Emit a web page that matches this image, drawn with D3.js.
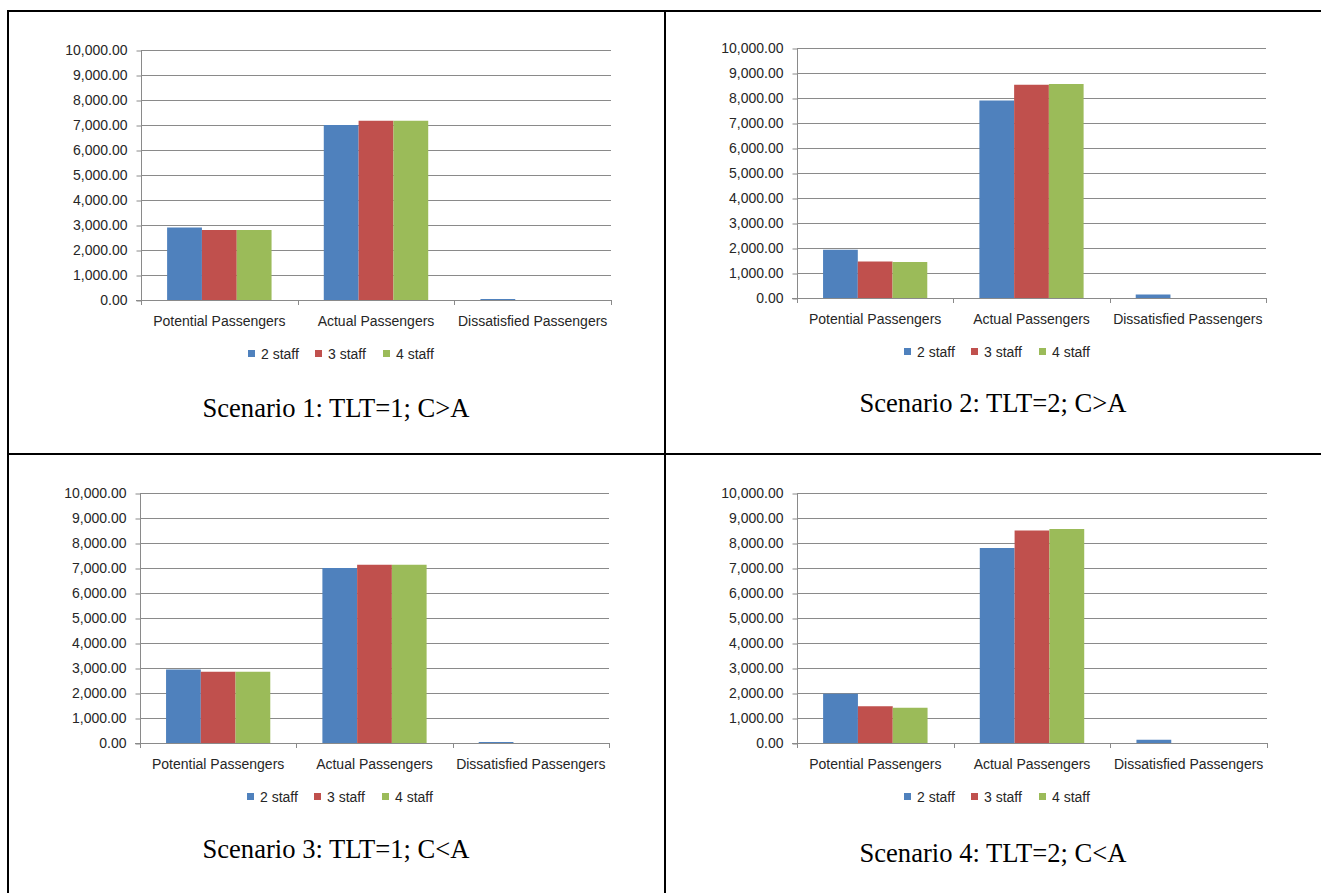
<!DOCTYPE html>
<html>
<head>
<meta charset="utf-8">
<script src="https://cdn.jsdelivr.net/npm/d3@7/dist/d3.min.js"></script>
<style>
  html, body { margin: 0; padding: 0; background: #fff; }
  svg { display: block; }
  .tick text { font-family: "Liberation Sans", Arial, sans-serif; font-size: 14px; fill: #262626; }
  .legend text, .cat text { font-family: "Liberation Sans", Arial, sans-serif; font-size: 14px; fill: #262626; }
  .caption { font-family: "Liberation Serif", "Times New Roman", serif; font-size: 26.6px; fill: #000; }
</style>
</head>
<body>
<div id="chart"></div>
<script>
var categories = ["Potential Passengers", "Actual Passengers", "Dissatisfied Passengers"]
var seriesNames = ["2 staff", "3 staff", "4 staff"]
var colors = ["#4F81BD", "#C0504D", "#9BBB59"]
var yTicks = [0, 1000, 2000, 3000, 4000, 5000, 6000, 7000, 8000, 9000, 10000]

// values per series, in category order
var s1Staff2 = [2900, 7000, 40]
var s1Staff3 = [2800, 7170, 0]
var s1Staff4 = [2800, 7170, 0]

var s2Staff2 = [1930, 7900, 140]
var s2Staff3 = [1460, 8530, 0]
var s2Staff4 = [1440, 8560, 0]

var s3Staff2 = [2940, 7000, 40]
var s3Staff3 = [2850, 7130, 0]
var s3Staff4 = [2850, 7130, 0]

var s4Staff2 = [1970, 7800, 130]
var s4Staff3 = [1470, 8500, 0]
var s4Staff4 = [1410, 8560, 0]

var captions = [
    "Scenario 1: TLT=1; C>A",
    "Scenario 2: TLT=2; C>A",
    "Scenario 3: TLT=1; C<A",
    "Scenario 4: TLT=2; C<A"
]

var W = 1321, H = 893

var svg = d3.select("#chart").append("svg")
    .attr("width", W)
    .attr("height", H)

// table borders
var border = svg.append("g").attr("stroke", "#000").attr("stroke-width", 2)
border.append("line").attr("x1", 8).attr("x2", 8).attr("y1", 10).attr("y2", H)
border.append("line").attr("x1", 7).attr("x2", W).attr("y1", 11).attr("y2", 11)
border.append("line").attr("x1", 665).attr("x2", 665).attr("y1", 10).attr("y2", H)
border.append("line").attr("x1", 7).attr("x2", W).attr("y1", 454).attr("y2", 454)

// panel placement: plot area + caption
var panels = [
    { data: [s1Staff2, s1Staff3, s1Staff4], left: 141, right: 611, top: 50, bottom: 300, capX: 336, capY: 417 },
    { data: [s2Staff2, s2Staff3, s2Staff4], left: 797, right: 1266, top: 48, bottom: 298, capX: 993, capY: 412 },
    { data: [s3Staff2, s3Staff3, s3Staff4], left: 140, right: 609, top: 493, bottom: 743, capX: 336, capY: 858 },
    { data: [s4Staff2, s4Staff3, s4Staff4], left: 797, right: 1267, top: 493, bottom: 743, capX: 993, capY: 862 }
]

function drawPanel(p, i) {
    var g = svg.append("g")

    var x = d3.scaleBand()
        .domain(categories)
        .range([p.left, p.right])

    var bw = x.bandwidth()
    var gap = bw * 0.75 / 4.5   // excel gap width 150%
    var x1 = d3.scaleBand()
        .domain(seriesNames)
        .range([gap, bw - gap])

    var y = d3.scaleLinear()
        .domain([0, 10000])
        .range([p.bottom, p.top])

    // gridlines
    g.append("g")
        .selectAll("line")
        .data(yTicks.slice(1))
        .join("line")
        .attr("x1", p.left)
        .attr("x2", p.right)
        .attr("y1", function(d) { return y(d) + 0.5 })
        .attr("y2", function(d) { return y(d) + 0.5 })
        .attr("stroke", "#8a8a8a")
        .attr("stroke-width", 1.2)

    // bars
    var rows = []
    seriesNames.forEach(function(s, si) {
        categories.forEach(function(c, ci) {
            rows.push({ series: s, cat: c, value: p.data[si][ci], color: colors[si] })
        })
    })
    g.append("g")
        .selectAll("rect")
        .data(rows)
        .join("rect")
        .attr("x", function(d) { return x(d.cat) + x1(d.series) })
        .attr("width", x1.bandwidth())
        .attr("y", function(d) { return y(d.value) })
        .attr("height", function(d) { return y(0) - y(d.value) })
        .attr("fill", function(d) { return d.color })

    // y axis
    var yAxis = g.append("g")
        .attr("transform", "translate(" + (p.left + 0.5) + ",0)")
        .call(d3.axisLeft(y).tickValues(yTicks).tickFormat(d3.format(",.2f")).tickSize(5).tickPadding(9))
    yAxis.select(".domain").attr("stroke", "#8a8a8a").attr("d", "M0," + p.top + "V" + (p.bottom + 0.5))
    yAxis.selectAll(".tick line").attr("stroke", "#8a8a8a").attr("transform", "translate(0,0.5)")

    // x axis baseline and category boundary ticks
    g.append("line")
        .attr("x1", p.left - 5).attr("x2", p.right)
        .attr("y1", p.bottom + 0.5).attr("y2", p.bottom + 0.5)
        .attr("stroke", "#8a8a8a")
    var bounds = categories.map(function(c) { return x(c) }).concat([p.right])
    g.append("g")
        .selectAll("line")
        .data(bounds)
        .join("line")
        .attr("x1", function(d) { return Math.round(d) + 0.5 })
        .attr("x2", function(d) { return Math.round(d) + 0.5 })
        .attr("y1", p.bottom)
        .attr("y2", p.bottom + 5)
        .attr("stroke", "#8a8a8a")

    // category labels
    g.append("g").attr("class", "cat")
        .selectAll("text")
        .data(categories)
        .join("text")
        .attr("x", function(d) { return x(d) + bw / 2 })
        .attr("y", p.bottom + 26)
        .attr("text-anchor", "middle")
        .text(function(d) { return d })

    // legend
    var lx = p.left + 107
    var ly = p.bottom + 54
    var offsets = [0, 67, 135]
    var leg = g.append("g").attr("class", "legend")
        .selectAll("g")
        .data(seriesNames)
        .join("g")
        .attr("transform", function(d, k) { return "translate(" + (lx + offsets[k]) + "," + ly + ")" })
    leg.append("rect")
        .attr("x", 0).attr("y", -4)
        .attr("width", 7).attr("height", 7)
        .attr("fill", function(d, k) { return colors[k] })
    leg.append("text")
        .attr("x", 13).attr("y", 5)
        .text(function(d) { return d })

    // caption
    g.append("text")
        .attr("class", "caption")
        .attr("x", p.capX)
        .attr("y", p.capY)
        .attr("text-anchor", "middle")
        .text(captions[i])
}

panels.forEach(drawPanel)
</script>
</body>
</html>
